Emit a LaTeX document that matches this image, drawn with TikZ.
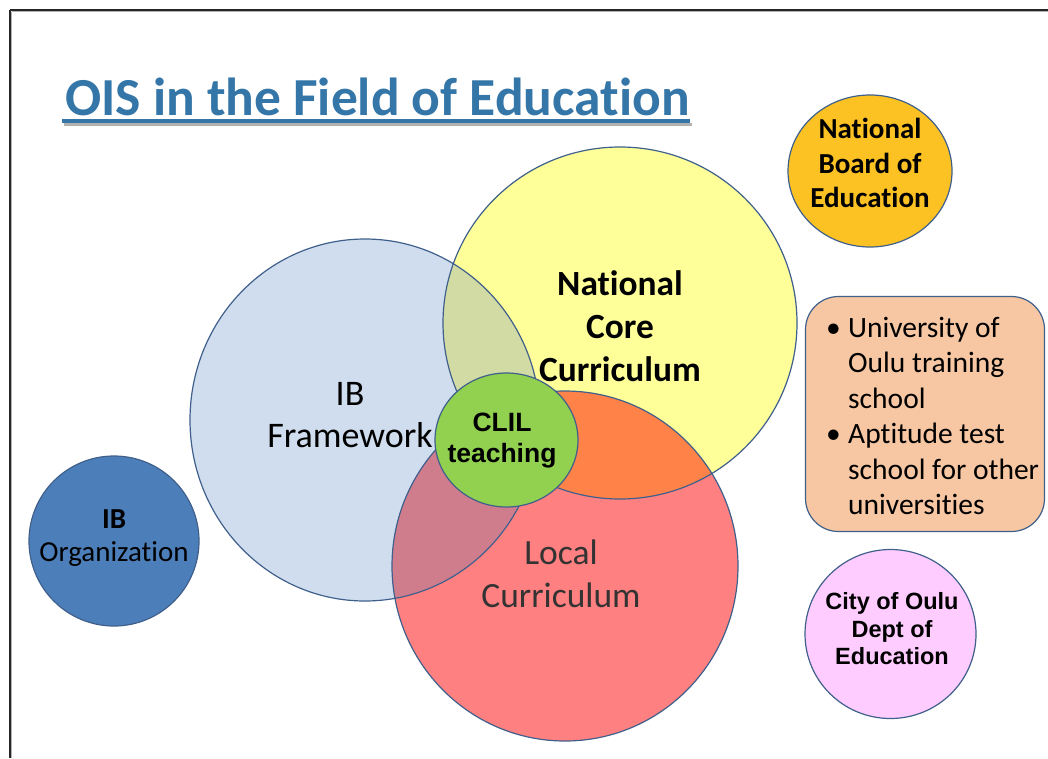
\documentclass[tikz,border=0pt]{standalone}
\usepackage{fontspec}
\setmainfont{Carlito}[Ligatures={NoCommon}]
\newfontfamily\arialfont{Liberation Sans}
\definecolor{titleblue}{RGB}{52,118,168}
\definecolor{edge}{RGB}{64,96,140}
\definecolor{ibblue}{RGB}{208,221,238}
\definecolor{ncyellow}{RGB}{255,255,153}
\definecolor{locred}{RGB}{255,128,128}
\definecolor{byover}{RGB}{210,219,164}
\definecolor{brover}{RGB}{207,125,141}
\definecolor{ryover}{RGB}{255,130,72}
\definecolor{bryover}{RGB}{208,112,74}
\definecolor{clilgreen}{RGB}{146,208,80}
\definecolor{nbegold}{RGB}{252,194,36}
\definecolor{iborg}{RGB}{76,126,186}
\definecolor{citypink}{RGB}{255,204,255}
\definecolor{peach}{RGB}{246,199,162}
\tikzset{
  circedge/.style={draw=edge,line width=1.2pt},
  lbl/.style={inner sep=0pt,align=center,text=black},
}
\begin{document}
\begin{tikzpicture}[x=1pt,y=-1pt]
\useasboundingbox (0,0) rectangle (1048,758);
\fill[white] (0,0) rectangle (1048,758);
% frame
\draw[gray!60,line width=1pt] (11.5,11.5) -- (1048,11.5);
\draw[gray!60,line width=1pt] (11.5,11.5) -- (11.5,758);
\draw[black!85,line width=2pt] (9.5,9.5) -- (1048,9.5);
\draw[black!85,line width=2pt] (9.5,9.5) -- (9.5,758);
% title
\fill[black!30] (64,123) rectangle (692,126);
\node (title) [anchor=base west,inner sep=0pt,text=titleblue,font=\fontsize{53.5}{60}\bfseries] at (65,115.5) {OIS in the Field of Education};
\fill[titleblue] (62,119) rectangle (690,122.5);
% Big circles: fills
\path[fill=ibblue] (365,420) ellipse [x radius=175,y radius=181];
\path[fill=ncyellow] (620,323) ellipse [x radius=177,y radius=176];
\begin{scope}
  \clip (620,323) ellipse [x radius=177,y radius=176];
  \path[fill=byover] (365,420) ellipse [x radius=175,y radius=181];
\end{scope}
\path[fill=locred] (565,566) ellipse [x radius=173,y radius=175];
\begin{scope}
  \clip (565,566) ellipse [x radius=173,y radius=175];
  \path[fill=brover] (365,420) ellipse [x radius=175,y radius=181];
  \path[fill=ryover] (620,323) ellipse [x radius=177,y radius=176];
  \clip (620,323) ellipse [x radius=177,y radius=176];
  \path[fill=bryover] (365,420) ellipse [x radius=175,y radius=181];
\end{scope}
% outlines
\draw[circedge] (365,420) ellipse [x radius=175,y radius=181];
\draw[circedge] (620,323) ellipse [x radius=177,y radius=176];
\draw[circedge] (565,566) ellipse [x radius=173,y radius=175];
% labels of big circles
\node (ibf) [lbl,font=\fontsize{36}{42}\selectfont] at (350,415) {IB\\Framework};
\node (nat) [lbl,font=\fontsize{35.4}{43}\bfseries] at (620,326) {National\\Core\\Curriculum};
\node (loc) [lbl,text=black!80,font=\fontsize{35.5}{43}\selectfont] at (561,574) {Local\\Curriculum};
% CLIL
\path[circedge,fill=clilgreen] (506.5,440) ellipse [x radius=71.5,y radius=67];
\node (clilt) [lbl,font=\arialfont\bfseries\fontsize{26.5}{31}\selectfont] at (502,441) {CLIL\\teaching};
% National Board
\path[circedge,fill=nbegold] (870,171) ellipse [x radius=82,y radius=76];
\node (nbe) [lbl,font=\fontsize{29}{34.5}\bfseries] at (870,163) {National\\Board of\\Education};
% IB Organization
\path[circedge,fill=iborg] (114,541) ellipse [x radius=85,y radius=85];
\node (ibo) [lbl,font=\fontsize{29}{33}\selectfont] at (114,538) {\textbf{IB}\\Organization};
% City
\path[circedge,fill=citypink] (890.5,634) ellipse [x radius=85.5,y radius=84.5];
\node (city) [lbl,font=\arialfont\bfseries\fontsize{23.5}{27.5}\selectfont] at (892,629) {City of Oulu\\Dept of\\Education};
% box
\draw[circedge,fill=peach,rounded corners=33pt] (805.5,296.5) rectangle (1044.5,531.5);
\node (boxt) [anchor=north west,inner sep=0pt,align=left,font=\fontsize{29.5}{35.4}\selectfont] at (826,317)
 {\makebox[22pt][l]{\textbullet}University of\\
  \hspace*{22pt}Oulu training\\
  \hspace*{22pt}school\\
  \makebox[22pt][l]{\textbullet}Aptitude test\\
  \hspace*{22pt}school for other\\
  \hspace*{22pt}universities};
\end{tikzpicture}
\end{document}
